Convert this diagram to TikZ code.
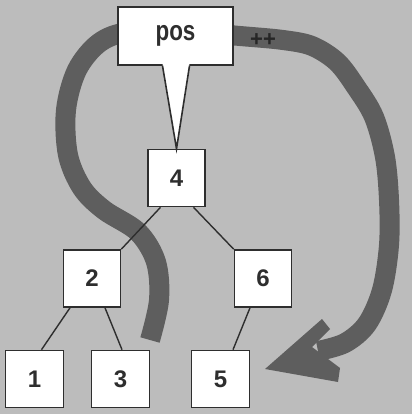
\documentclass[tikz,border=0pt]{standalone}
\usepackage{fontspec}
\setmainfont{Liberation Sans}
\usetikzlibrary{calc}
\definecolor{bg}{HTML}{BCBCBC}
\definecolor{band}{HTML}{5E5E5E}
\definecolor{ink}{HTML}{2E2E2E}
\tikzset{
  treebox/.style={draw=ink, line width=1.6pt, fill=white, inner sep=0pt,
    minimum width=57pt, minimum height=57pt, font=\fontsize{24}{28}\selectfont\bfseries, text=ink},
  treeline/.style={draw=ink, line width=1.4pt},
  bandline/.style={draw=band, line width=20pt, line cap=butt, line join=round},
}
\begin{document}
\begin{tikzpicture}[x=1pt,y=-1pt]
\useasboundingbox (0,0) rectangle (412,414);
\fill[bg] (0,0) rectangle (412,414);
% thick curved arrow
\draw[bandline] plot[smooth, tension=0.55] coordinates {(150,340) (159,300) (156,262) (138,232) (104,210) (82,188) (68,155) (66,110) (77,70) (99,43) (128,32) (180,31) (240,36) (283,40) (312,46) (337,62) (356,87) (374,117) (385,157) (389,200) (389,245) (382,290) (367,324) (345,343) (318,351)};
\fill[band] (265,369) -- (322,319) -- (330,329) -- (312,347) -- (340,368) -- (338,382) -- cycle;
% nodes
\node[treebox, minimum width=115pt, minimum height=58pt] (pos) at (175.5,36) {\scalebox{0.8}[1]{\fontsize{28}{32}\selectfont pos}};
\node[treebox] (n4) at (176.5,178) {4};
\node[treebox] (n2) at (92,278.5) {2};
\node[treebox] (n6) at (263,278.5) {6};
\node[treebox, minimum width=58pt] (n1) at (34.5,379) {1};
\node[treebox, minimum width=58pt] (n3) at (120.5,379) {3};
\node[treebox, minimum width=58pt] (n5) at (220.5,379) {5};
\node[text=black!85, font=\fontsize{22}{24}\selectfont\bfseries, inner sep=0pt] (inc) at (263,40) {++};
% callout tail
\fill[white] ($(pos.south)+(-13,-2)$) -- (n4.north) -- ($(pos.south)+(14,-2)$) -- cycle;
\draw[ink, line width=1.6pt, line join=miter] ($(pos.south)+(-13,0)$) -- (n4.north) -- ($(pos.south)+(14,0)$);
% tree edges
\draw[treeline] ($(n4.south)+(-16,0)$) -- (n2.north east);
\draw[treeline] ($(n4.south)+(17,0)$) -- (n6.north west);
\draw[treeline] ($(n2.south)+(-22,0)$) -- ($(n1.north)+(7,0)$);
\draw[treeline] ($(n2.south)+(13,0)$) -- ($(n3.north)+(1.5,0)$);
\draw[treeline] ($(n6.south)+(-13,0)$) -- ($(n5.north)+(12.5,0)$);
\end{tikzpicture}
\end{document}
